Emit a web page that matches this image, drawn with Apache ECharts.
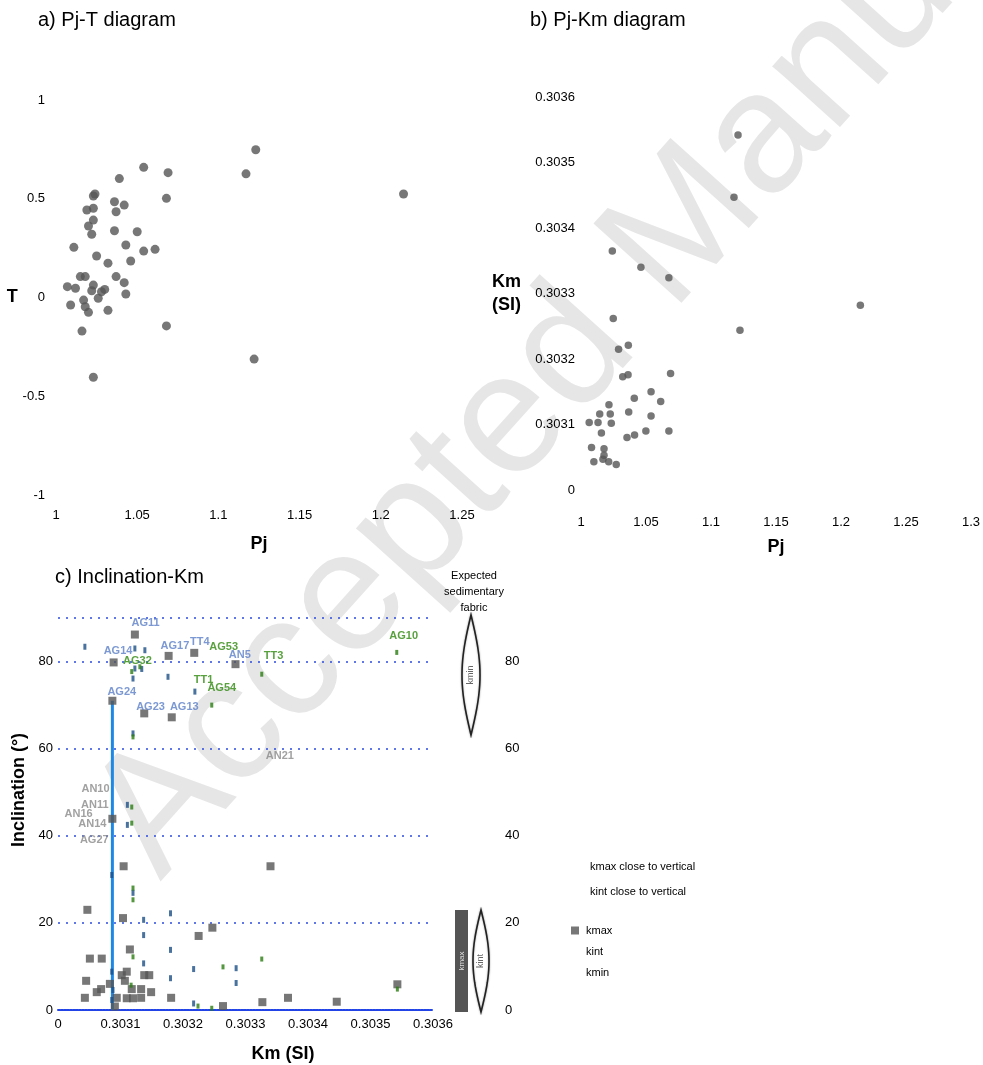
<!DOCTYPE html>
<html>
<head>
<meta charset="utf-8">
<script src="https://cdn.jsdelivr.net/npm/echarts@6/dist/echarts.min.js"></script>
<style>
  html, body { margin: 0; padding: 0; background: #fff; }
  #chart { width: 983px; height: 1065px; }
</style>
</head>
<body>
<div id="chart"></div>
<script>
// ---- a) Pj-T diagram : [Pj, T] ----
const pjT = [
  [1.054, 0.659], [1.069, 0.632], [1.039, 0.602], [1.024, 0.524], [1.023, 0.514],
  [1.068, 0.502], [1.036, 0.485], [1.042, 0.468], [1.019, 0.443], [1.023, 0.452],
  [1.037, 0.434], [1.023, 0.392], [1.020, 0.362], [1.036, 0.338], [1.050, 0.333],
  [1.022, 0.320], [1.011, 0.254], [1.043, 0.266], [1.054, 0.235], [1.061, 0.244],
  [1.025, 0.210], [1.046, 0.185], [1.032, 0.174], [1.015, 0.106], [1.018, 0.106],
  [1.037, 0.106], [1.042, 0.075], [1.007, 0.055], [1.012, 0.047], [1.023, 0.063],
  [1.022, 0.034], [1.028, 0.029], [1.030, 0.041], [1.026, -0.004], [1.043, 0.018],
  [1.017, -0.013], [1.009, -0.038], [1.018, -0.047], [1.020, -0.075], [1.032, -0.065],
  [1.068, -0.144], [1.016, -0.170], [1.023, -0.404],
  [1.123, 0.748], [1.117, 0.626], [1.214, 0.524], [1.122, -0.312]
];

// ---- b) Pj-Km diagram : [Pj, Km (SI)] ----
const pjKm = [
  [1.0241, 0.303365], [1.0461, 0.303340], [1.0676, 0.303324], [1.0248, 0.303262],
  [1.0364, 0.303221], [1.0289, 0.303215], [1.0321, 0.303173], [1.0362, 0.303176],
  [1.0689, 0.303178], [1.0539, 0.303150], [1.0410, 0.303140], [1.0613, 0.303135],
  [1.0215, 0.303130], [1.0367, 0.303119], [1.0539, 0.303113], [1.0144, 0.303116],
  [1.0225, 0.303116], [1.0063, 0.303103], [1.0131, 0.303103], [1.0233, 0.303102],
  [1.0157, 0.303087], [1.0499, 0.303090], [1.0676, 0.303090], [1.0354, 0.303080],
  [1.0412, 0.303084], [1.0081, 0.303065], [1.0177, 0.303063], [1.0177, 0.303053],
  [1.0099, 0.303043], [1.0169, 0.303047], [1.0213, 0.303043], [1.0271, 0.303039],
  [1.1208, 0.303542], [1.1177, 0.303447], [1.2149, 0.303282], [1.1223, 0.303244]
];

// ---- c) Inclination-Km : [Km (SI), inclination in degrees] ----
const kmaxPts = [
  [0.303123, 86.2], [0.303089, 79.8], [0.303177, 81.3], [0.303218, 82.0], [0.303284, 79.4],
  [0.303087, 71.0], [0.303138, 68.1], [0.303182, 67.2], [0.303087, 43.9], [0.303105, 33.0],
  [0.303340, 33.0], [0.303047, 23.0], [0.303104, 21.1], [0.303247, 18.9], [0.303225, 17.0],
  [0.303115, 13.9], [0.303051, 11.8], [0.303070, 11.8], [0.303110, 8.8], [0.303102, 8.0],
  [0.303138, 8.0], [0.303146, 8.0], [0.303045, 6.7], [0.303107, 6.7], [0.303083, 6.0],
  [0.303069, 4.8], [0.303062, 4.1], [0.303118, 4.8], [0.303133, 4.8], [0.303149, 4.1],
  [0.303043, 2.8], [0.303094, 2.8], [0.303110, 2.7], [0.303120, 2.7], [0.303133, 2.8],
  [0.303181, 2.8], [0.303091, 0.8], [0.303264, 0.9], [0.303327, 1.8], [0.303368, 2.8],
  [0.303446, 1.9], [0.303543, 5.9]
];
const kintPts = [
  [0.303123, 83.0], [0.303123, 78.4], [0.303120, 76.1], [0.303176, 76.5], [0.303219, 73.1],
  [0.303120, 63.5], [0.303043, 83.4], [0.303139, 82.6], [0.303134, 78.3], [0.303086, 31.0],
  [0.303120, 26.9], [0.303180, 22.2], [0.303137, 20.7], [0.303137, 17.2], [0.303180, 13.8],
  [0.303137, 10.7], [0.303217, 9.4], [0.303285, 9.6], [0.303285, 6.2], [0.303180, 7.3],
  [0.303086, 8.8], [0.303217, 1.5], [0.303088, 4.6], [0.303086, 2.3], [0.303111, 47.1],
  [0.303111, 42.5]
];
const kminPts = [
  [0.303118, 77.7], [0.303131, 78.8], [0.303246, 70.0], [0.303326, 77.1], [0.303120, 62.7],
  [0.303542, 82.1], [0.303543, 4.8], [0.303118, 46.6], [0.303118, 42.9], [0.303120, 28.0],
  [0.303120, 25.3], [0.303120, 12.2], [0.303264, 9.9], [0.303326, 11.7], [0.303224, 0.9],
  [0.303246, 0.4], [0.303117, 5.7]
];
// site tags : [Km, inclination, name]
const blueTags = [
  [0.303140, 88.9, 'AG11'], [0.303096, 82.4, 'AG14'], [0.303187, 83.6, 'AG17'],
  [0.303227, 84.6, 'TT4'], [0.303291, 81.5, 'AN5'], [0.303102, 73.1, 'AG24'],
  [0.303148, 69.6, 'AG23'], [0.303202, 69.6, 'AG13']
];
const greenTags = [
  [0.303127, 80.1, 'AG32'], [0.303265, 83.4, 'AG53'], [0.303345, 81.3, 'TT3'],
  [0.303233, 75.8, 'TT1'], [0.303262, 73.9, 'AG54'], [0.303553, 85.9, 'AG10']
];
const greyTags = [
  [0.303355, 58.4, 'AN21'], [0.303060, 50.7, 'AN10'], [0.303059, 47.1, 'AN11'],
  [0.303033, 45.0, 'AN16'], [0.303055, 42.7, 'AN14'], [0.303058, 39.0, 'AG27']
];
// the highlighted vertical drop from site AG24
const dropSite = kmaxPts[5];

const FONT = '"Liberation Sans", Arial, sans-serif';
const KM_BASE = 0.303;
const kmLabel = v => (Math.abs(v - KM_BASE) < 1e-9 ? '0' : v.toFixed(4));

const tickText = { fontSize: 13, color: '#000', fontFamily: FONT };
const nameText = { fontSize: 18, fontWeight: 'bold', color: '#000', fontFamily: FONT };
const titleText = { fontSize: 20, fontWeight: 'normal', color: '#000', fontFamily: FONT };
const hidden = { show: false };

function tagSeries(name, tags, color) {
  return {
    name: name, type: 'scatter', xAxisIndex: 2, yAxisIndex: 2,
    symbolSize: 1, itemStyle: { color: 'transparent' }, z: 5,
    data: tags.map(t => ({ value: [t[0], t[1]], name: t[2] })),
    label: {
      show: true, position: 'inside', formatter: p => p.name,
      color: color, fontSize: 11, fontWeight: 'bold', fontFamily: FONT
    }
  };
}

// lens-shaped outline for the expected-fabric sketch
function lens(cx, top, bottom, hw) {
  const pts = [];
  const n = 24;
  for (let i = 0; i <= n; i++) {
    const t = i / n;
    pts.push([cx + hw * Math.sin(Math.PI * t), top + (bottom - top) * t]);
  }
  for (let i = n - 1; i > 0; i--) {
    const t = i / n;
    pts.push([cx - hw * Math.sin(Math.PI * t), top + (bottom - top) * t]);
  }
  return {
    type: 'polygon', z: 3,
    shape: { points: pts },
    style: { fill: '#fff', stroke: '#222', lineWidth: 1.6, shadowBlur: 2, shadowColor: 'rgba(0,0,0,0.35)' }
  };
}
function vText(x, y, text, color, size) {
  return {
    type: 'text', x: x, y: y, rotation: Math.PI / 2, z: 4,
    style: { text: text, fill: color, font: `${size}px ${FONT}`, align: 'center', verticalAlign: 'middle',
             textAlign: 'center', textVerticalAlign: 'middle' }
  };
}

const chart = echarts.init(document.getElementById('chart'), null, { renderer: 'canvas' });

chart.setOption({
  backgroundColor: '#fff',
  animation: false,
  title: [
    { text: 'a) Pj-T diagram', left: 38, top: 10, padding: 0, textStyle: titleText },
    { text: 'b) Pj-Km diagram', left: 530, top: 10, padding: 0, textStyle: titleText },
    { text: 'c) Inclination-Km', left: 55, top: 567, padding: 0, textStyle: titleText }
  ],
  grid: [
    { left: 56, top: 100, width: 406, height: 395 },
    { left: 581, top: 97, width: 395, height: 393 },
    { left: 58, top: 618, width: 375, height: 392 }
  ],
  xAxis: [
    { gridIndex: 0, type: 'value', min: 1, max: 1.25, interval: 0.05,
      name: 'Pj', nameLocation: 'middle', nameGap: 40, nameTextStyle: nameText,
      axisLine: hidden, axisTick: hidden, splitLine: hidden,
      axisLabel: Object.assign({ margin: 14 }, tickText) },
    { gridIndex: 1, type: 'value', min: 1, max: 1.3, interval: 0.05,
      name: 'Pj', nameLocation: 'middle', nameGap: 48, nameTextStyle: nameText,
      axisLine: hidden, axisTick: hidden, splitLine: hidden,
      axisLabel: Object.assign({ margin: 26 }, tickText) },
    { gridIndex: 2, type: 'value', min: 0.303, max: 0.3036, interval: 0.0001,
      name: 'Km (SI)', nameLocation: 'middle', nameGap: 35,
      nameTextStyle: Object.assign({ padding: [0, 0, 0, 75] }, nameText),
      axisLine: { show: true, lineStyle: { color: '#2244e6', width: 2, type: [2, 1] } },
      axisTick: hidden, splitLine: hidden,
      axisLabel: Object.assign({ margin: 8, formatter: kmLabel }, tickText) }
  ],
  yAxis: [
    { gridIndex: 0, type: 'value', min: -1, max: 1, interval: 0.5,
      name: 'T', nameLocation: 'middle', nameRotate: 0, nameGap: 38, nameTextStyle: nameText,
      axisLine: hidden, axisTick: hidden, splitLine: hidden,
      axisLabel: Object.assign({ margin: 11 }, tickText) },
    { gridIndex: 1, type: 'value', min: 0.303, max: 0.3036, interval: 0.0001,
      name: 'Km\n(SI)', nameLocation: 'middle', nameRotate: 0, nameGap: 60,
      nameTextStyle: Object.assign({ lineHeight: 23 }, nameText),
      axisLine: hidden, axisTick: hidden, splitLine: hidden,
      axisLabel: Object.assign({ margin: 6, formatter: kmLabel }, tickText) },
    { gridIndex: 2, type: 'value', min: 0, max: 90, interval: 20,
      name: 'Inclination (°)', nameLocation: 'middle', nameGap: 30,
      nameTextStyle: Object.assign({ padding: [0, 0, 0, 48] }, nameText),
      axisLine: hidden, axisTick: hidden,
      splitLine: { show: true, lineStyle: { color: '#2a4de0', width: 1.5, type: [2, 6] } },
      axisLabel: Object.assign({ margin: 5, showMaxLabel: false }, tickText) },
    { gridIndex: 2, type: 'value', position: 'right', min: 0, max: 90, interval: 20,
      axisLine: hidden, axisTick: hidden, splitLine: hidden,
      axisLabel: Object.assign({ margin: 72, showMaxLabel: false }, tickText) }
  ],
  legend: [
    { orient: 'vertical', left: 568, top: 856, itemWidth: 12, itemHeight: 12, itemGap: 13,
      selectedMode: false, textStyle: { fontSize: 11, color: '#000', fontFamily: FONT },
      data: [
        { name: 'kmax close to vertical', itemStyle: { opacity: 0 } },
        { name: 'kint close to vertical', itemStyle: { opacity: 0 } }
      ] },
    { orient: 'vertical', left: 566, top: 920, itemWidth: 12, itemHeight: 8, itemGap: 10,
      icon: 'path://M0,0h10v10h-10z', selectedMode: false,
      textStyle: { fontSize: 11, color: '#000', fontFamily: FONT },
      data: [
        { name: 'kmax' },
        { name: 'kint', itemStyle: { opacity: 0 } },
        { name: 'kmin', itemStyle: { opacity: 0 } }
      ] }
  ],
  graphic: {
    elements: [
      { type: 'text', x: 125, y: 850, rotation: Math.PI * 48 / 180, z: -10, silent: true,
        style: { text: 'Accepted Manuscript', font: `172px ${FONT}`, fill: '#e6e6e6',
                 align: 'left', verticalAlign: 'middle', textAlign: 'left', textVerticalAlign: 'middle' } },
      { type: 'text', x: 474, y: 568, z: 4,
        style: { text: 'Expected\nsedimentary\nfabric', font: `11px ${FONT}`, fill: '#000', lineHeight: 16,
                 align: 'center', textAlign: 'center' } },
      lens(471, 615, 735, 9),
      vText(471, 675, 'kmin', '#666', 9),
      { type: 'rect', z: 3, shape: { x: 455, y: 910, width: 13, height: 102 }, style: { fill: '#555' } },
      vText(461.5, 961, 'kmax', '#ddd', 8),
      lens(481, 910, 1012, 8),
      vText(481, 961, 'kint', '#666', 9)
    ]
  },
  series: [
    { name: 'Pj-T', type: 'scatter', xAxisIndex: 0, yAxisIndex: 0, symbolSize: 9,
      itemStyle: { color: '#555' }, data: pjT },
    { name: 'Pj-Km', type: 'scatter', xAxisIndex: 1, yAxisIndex: 1, symbolSize: 7.5,
      itemStyle: { color: '#555' }, data: pjKm },
    { name: 'drop', type: 'line', xAxisIndex: 2, yAxisIndex: 2, symbol: 'none', z: 1,
      lineStyle: { color: '#1e88e5', width: 3 },
      data: [[dropSite[0], 0], [dropSite[0], dropSite[1]]] },
    { name: 'kmax', type: 'scatter', xAxisIndex: 2, yAxisIndex: 2, symbol: 'rect', symbolSize: 8,
      itemStyle: { color: '#555' }, data: kmaxPts },
    { name: 'kint', type: 'scatter', xAxisIndex: 2, yAxisIndex: 2, symbol: 'rect', symbolSize: [3, 6],
      itemStyle: { color: '#1c4f86' }, data: kintPts },
    { name: 'kmin', type: 'scatter', xAxisIndex: 2, yAxisIndex: 2, symbol: 'rect', symbolSize: [3, 5],
      itemStyle: { color: '#2a7d12' }, data: kminPts },
    tagSeries('kmax close to vertical', blueTags, '#5b80c8'),
    tagSeries('kint close to vertical', greenTags, '#2f8a0f'),
    tagSeries('others', greyTags, '#8a8a8a')
  ]
});
</script>
</body>
</html>
